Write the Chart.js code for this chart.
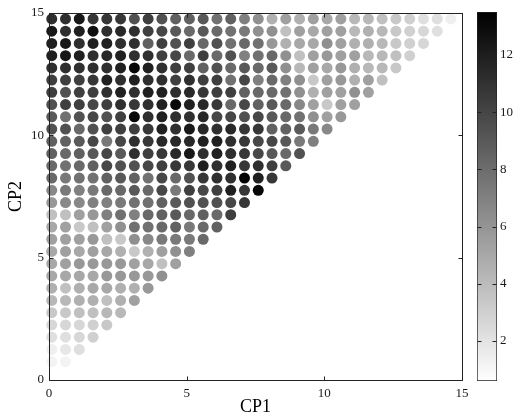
<!DOCTYPE html>
<html>
<head>
<meta charset="utf-8">
<script src="https://cdn.jsdelivr.net/npm/chart.js@4.4.1/dist/chart.umd.min.js"></script>
<style>
    body { margin: 0; background: #fff; }
    #wrap { position: relative; width: 514px; height: 416px; }
    #main_canvas { position: absolute; left: 0; top: 0; }
    #cbar_canvas { position: absolute; left: 465px; top: 0; }
</style>
</head>
<body>
<div id="wrap">
    <canvas id="main_canvas" width="514" height="416"></canvas>
    <canvas id="cbar_canvas" width="49" height="416"></canvas>
</div>
<script>
// grid positions of the dots
const cp1_grid = [0.1, 0.6, 1.1, 1.6, 2.1, 2.6, 3.1, 3.6, 4.1, 4.6, 5.1, 5.6, 6.1, 6.6, 7.1,
                  7.6, 8.1, 8.6, 9.1, 9.6, 10.1, 10.6, 11.1, 11.6, 12.1, 12.6, 13.1, 13.6, 14.1, 14.6];
// rows, top row first
const cp2_grid = [14.75, 14.25, 13.75, 13.25, 12.75, 12.25, 11.75, 11.25, 10.75, 10.25,
                  9.75, 9.25, 8.75, 8.25, 7.75, 7.25, 6.75, 6.25, 5.75, 5.25,
                  4.75, 4.25, 3.75, 3.25, 2.75, 2.25, 1.75, 1.25, 0.75];

// colour value of each dot, one list per cp2 row (top row first), left to right
const cell_values = [
    [11.1, 11.1, 12.3, 10.7, 10.7, 10.7, 9.4, 10.3, 9.4, 8.6, 8.6, 9.0, 7.8, 8.6, 7.0, 6.2, 4.6, 5.4, 4.6, 5.4, 5.0, 5.4, 4.2, 4.2, 3.8, 3.4, 3.0, 2.2, 2.2, 1.4],
    [12.3, 11.1, 11.9, 12.7, 11.1, 11.5, 11.1, 10.3, 9.9, 9.0, 8.2, 9.0, 8.2, 7.8, 7.4, 6.2, 6.2, 3.8, 5.4, 5.0, 5.4, 5.4, 4.2, 4.6, 4.2, 3.4, 3.0, 2.6, 2.2],
    [11.9, 12.3, 11.1, 11.9, 11.9, 11.1, 11.1, 8.6, 10.3, 9.4, 10.3, 8.2, 9.4, 7.8, 8.2, 7.8, 5.8, 4.6, 5.0, 5.0, 6.2, 5.4, 4.6, 4.6, 4.2, 3.4, 3.0, 2.6],
    [11.9, 12.3, 11.9, 11.1, 11.5, 11.9, 11.1, 11.1, 10.3, 9.9, 8.2, 10.3, 8.2, 9.4, 7.0, 7.8, 8.2, 6.2, 3.8, 5.4, 5.8, 5.4, 5.4, 4.2, 4.2, 3.8, 3.0],
    [11.1, 11.1, 11.1, 11.1, 11.1, 11.9, 13.1, 11.9, 11.1, 10.3, 10.3, 8.6, 9.4, 8.2, 9.0, 8.2, 9.0, 6.2, 4.2, 5.4, 5.0, 5.8, 4.6, 4.2, 4.2, 3.4],
    [10.3, 10.3, 10.3, 10.7, 11.9, 11.1, 11.9, 11.1, 11.1, 10.3, 11.1, 10.3, 10.3, 7.8, 9.9, 7.0, 8.2, 7.0, 6.2, 3.4, 5.4, 5.8, 4.6, 5.4, 3.8],
    [10.3, 9.4, 10.3, 10.3, 11.1, 11.9, 11.1, 11.9, 11.9, 11.1, 11.5, 10.7, 10.3, 10.3, 8.6, 8.2, 8.2, 7.8, 6.2, 4.6, 5.4, 5.4, 6.2, 5.4],
    [9.4, 10.3, 10.3, 9.9, 10.3, 11.1, 10.7, 11.1, 11.9, 13.1, 11.9, 11.5, 10.7, 8.2, 9.9, 8.6, 9.0, 8.2, 6.6, 5.4, 3.4, 5.4, 5.4],
    [9.0, 7.8, 9.4, 9.9, 9.4, 10.3, 13.1, 11.1, 11.9, 11.1, 11.1, 11.5, 9.9, 9.9, 9.4, 9.9, 9.0, 8.2, 7.8, 6.2, 5.4, 5.8],
    [9.4, 9.4, 8.2, 9.4, 10.3, 10.3, 10.3, 10.7, 11.9, 11.1, 12.3, 11.5, 11.1, 11.5, 10.7, 10.7, 8.6, 8.6, 9.0, 7.4, 6.6],
    [8.6, 8.6, 9.0, 9.9, 7.4, 9.9, 11.1, 10.7, 11.5, 11.5, 11.5, 11.9, 11.9, 11.1, 10.7, 9.9, 9.9, 9.0, 7.4, 7.0],
    [8.6, 8.2, 8.6, 9.0, 9.9, 9.0, 11.1, 10.3, 10.7, 11.5, 12.3, 11.1, 11.9, 11.1, 10.7, 9.9, 9.0, 8.2, 9.4],
    [8.2, 7.8, 8.2, 8.6, 9.9, 9.4, 9.4, 9.9, 10.3, 10.7, 10.7, 11.9, 11.1, 11.9, 10.7, 11.1, 10.3, 9.0],
    [8.2, 7.4, 7.8, 7.8, 8.6, 9.0, 8.6, 7.8, 9.9, 8.2, 9.4, 10.7, 11.1, 11.1, 13.5, 11.9, 10.7],
    [6.6, 7.4, 7.0, 7.4, 8.2, 8.2, 9.0, 8.2, 9.9, 7.4, 10.3, 9.9, 10.3, 11.9, 10.7, 13.1],
    [5.8, 6.6, 6.6, 7.0, 7.0, 7.4, 7.8, 7.8, 8.6, 9.0, 9.4, 9.4, 9.4, 9.9, 10.7],
    [3.8, 3.8, 5.4, 5.8, 7.0, 7.8, 7.0, 8.2, 8.6, 9.0, 8.2, 8.6, 8.2, 10.3],
    [5.0, 5.4, 3.4, 3.8, 5.4, 6.2, 7.8, 7.8, 8.2, 8.6, 7.4, 8.2, 8.6],
    [5.4, 5.4, 5.4, 5.8, 3.8, 3.4, 6.2, 6.6, 7.4, 7.4, 7.4, 8.2],
    [5.0, 5.4, 5.0, 5.4, 5.0, 4.6, 3.4, 4.6, 5.4, 6.2, 7.0],
    [5.0, 5.4, 5.8, 5.8, 5.8, 5.8, 5.4, 5.0, 3.8, 5.4],
    [5.0, 5.0, 5.0, 5.0, 5.8, 5.8, 5.8, 5.8, 6.2],
    [4.6, 3.8, 4.6, 5.0, 5.0, 4.6, 4.6, 5.8],
    [4.2, 4.2, 4.6, 4.6, 3.8, 4.6, 5.4],
    [3.4, 3.4, 3.8, 3.8, 4.2, 4.2],
    [2.6, 2.6, 2.6, 3.0, 3.4],
    [2.2, 2.2, 2.6, 3.0],
    [1.4, 1.8, 2.2],
    [1.2, 1.2]
];

const axis_ticks = [0, 5, 10, 15];
const cbar_ticks = [2, 4, 6, 8, 10, 12];
const cbar_min = 0.6;
const cbar_max = 13.5;

const tick_font = {family: 'Liberation Serif', size: 13};
const text_color = '#1a1a1a';

// reversed gray map: low = white, high = black
function gray_for(v) {
    let t = (cbar_max - v) / (cbar_max - cbar_min);
    t = Math.max(0, Math.min(1, t));
    const g = Math.round(255 * t);
    return 'rgb(' + g + ',' + g + ',' + g + ')';
}

let points = [];
for (let r = 0; r < cell_values.length; r++) {
    for (let c = 0; c < cell_values[r].length; c++) {
        points.push({x: cp1_grid[c], y: cp2_grid[r], v: cell_values[r][c]});
    }
}

function set_ticks(scale) {
    scale.ticks = axis_ticks.map(v => ({value: v}));
}

// box round the plot and inward tick marks, MATLAB style
const frame_plugin = {
    id: 'frame',
    afterDatasetsDraw(chart) {
        const ctx = chart.ctx;
        const a = chart.chartArea;
        const xs = chart.scales.x;
        const ys = chart.scales.y;
        const l = Math.round(a.left) + 0.5, r = Math.round(a.right) + 0.5;
        const t = Math.round(a.top) + 0.5, b = Math.round(a.bottom) + 0.5;
        ctx.save();
        ctx.strokeStyle = '#222';
        ctx.lineWidth = 1;
        ctx.strokeRect(l, t, r - l, b - t);
        ctx.beginPath();
        for (const tk of xs.ticks) {
            const px = Math.round(xs.getPixelForValue(tk.value)) + 0.5;
            ctx.moveTo(px, b); ctx.lineTo(px, b - 4);
            ctx.moveTo(px, t); ctx.lineTo(px, t + 4);
        }
        for (const tk of ys.ticks) {
            const py = Math.round(ys.getPixelForValue(tk.value)) + 0.5;
            ctx.moveTo(l, py); ctx.lineTo(l + 4, py);
            ctx.moveTo(r, py); ctx.lineTo(r - 4, py);
        }
        ctx.stroke();
        ctx.restore();
    }
};

new Chart(document.getElementById('main_canvas'), {
    type: 'scatter',
    data: {
        datasets: [{
            data: points,
            backgroundColor: c => gray_for(c.raw ? c.raw.v : 0),
            borderWidth: 0,
            pointRadius: 5.5,
            pointHoverRadius: 5.5,
            clip: false
        }]
    },
    options: {
        responsive: false,
        animation: false,
        events: [],
        layout: {padding: {top: 12, right: 52, left: 0, bottom: 0}},
        plugins: {legend: {display: false}, tooltip: {enabled: false}},
        scales: {
            x: {
                type: 'linear',
                min: 0,
                max: 15,
                afterBuildTicks: set_ticks,
                afterFit: s => { s.height = 36; },
                grid: {display: false, drawTicks: false, tickLength: 0},
                border: {display: false},
                ticks: {font: tick_font, color: text_color, padding: 6, maxRotation: 0},
                title: {
                    display: true,
                    text: 'CP1',
                    color: '#000',
                    font: {family: 'Liberation Serif', size: 18, lineHeight: 1},
                    padding: {top: 0, bottom: 0}
                }
            },
            y: {
                type: 'linear',
                min: 0,
                max: 15,
                afterBuildTicks: set_ticks,
                afterFit: s => { s.width = 49; },
                grid: {display: false, drawTicks: false, tickLength: 0},
                border: {display: false},
                ticks: {font: tick_font, color: text_color, padding: 5},
                title: {
                    display: true,
                    text: 'CP2',
                    color: '#000',
                    font: {family: 'Liberation Serif', size: 18, lineHeight: 1},
                    padding: {top: 7, bottom: 0}
                }
            }
        }
    },
    plugins: [frame_plugin]
});

// colour bar: one floating bar with a gradient fill
const cbar_tick_plugin = {
    id: 'cbar_ticks',
    afterDatasetsDraw(chart) {
        const ctx = chart.ctx;
        const a = chart.chartArea;
        const ys = chart.scales.y;
        const l = Math.round(a.left) + 0.5, r = Math.round(a.right) - 0.5;
        ctx.save();
        ctx.strokeStyle = '#222';
        ctx.lineWidth = 1;
        ctx.beginPath();
        for (const tk of ys.ticks) {
            const py = Math.round(ys.getPixelForValue(tk.value)) + 0.5;
            ctx.moveTo(l, py); ctx.lineTo(l + 4, py);
            ctx.moveTo(r, py); ctx.lineTo(r - 4, py);
        }
        ctx.stroke();
        ctx.restore();
    }
};

new Chart(document.getElementById('cbar_canvas'), {
    type: 'bar',
    data: {
        labels: [''],
        datasets: [{
            data: [[cbar_min, cbar_max]],
            backgroundColor: c => {
                const area = c.chart.chartArea;
                if (!area) return '#888';
                const grad = c.chart.ctx.createLinearGradient(0, area.bottom, 0, area.top);
                grad.addColorStop(0, '#ffffff');
                grad.addColorStop(1, '#000000');
                return grad;
            },
            borderColor: '#222',
            borderWidth: 1,
            borderSkipped: false,
            barPercentage: 1,
            categoryPercentage: 1
        }]
    },
    options: {
        responsive: false,
        animation: false,
        events: [],
        layout: {padding: {left: 12, top: 12, bottom: 35, right: 0}},
        plugins: {legend: {display: false}, tooltip: {enabled: false}},
        scales: {
            x: {display: false},
            y: {
                position: 'right',
                min: cbar_min,
                max: cbar_max,
                afterBuildTicks: s => { s.ticks = cbar_ticks.map(v => ({value: v})); },
                afterFit: s => { s.width = 17; },
                grid: {display: false, drawTicks: false, tickLength: 0},
                border: {display: false},
                ticks: {font: tick_font, color: text_color, padding: 3}
            }
        }
    },
    plugins: [cbar_tick_plugin]
});
</script>
</body>
</html>
